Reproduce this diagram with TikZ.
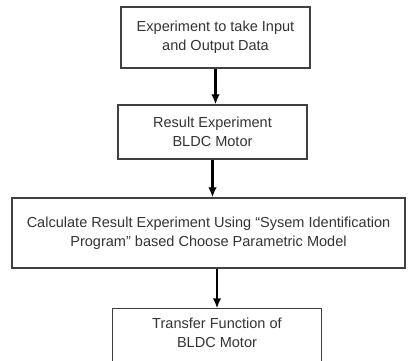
\documentclass[tikz,border=0pt]{standalone}
\usepackage{fontspec}
\setmainfont{Liberation Sans}
\usetikzlibrary{arrows.meta}

\begin{document}
\begin{tikzpicture}[x=0.75pt,y=-0.75pt,
		boxline/.style={draw=black!75,line width=1pt},
		box/.style={boxline,align=center,inner sep=0pt,
			font=\fontsize{10.9}{14}\selectfont,text=black!80},
		arr/.style={line width=1.6pt,-{Latex[length=7.5pt,width=6.5pt]}}]
				\useasboundingbox (0,0) rectangle (417,360);
				
				\node[box,minimum width=141.75pt,minimum height=45.75pt] (expt) at (215.5,37.5)
					{Experiment to take Input\\and Output Data};
				\node[box,minimum width=141.75pt,minimum height=40.5pt] (result) at (212.5,132)
					{Result Experiment\\BLDC Motor};
				\node[box,minimum width=294.75pt,minimum height=52.5pt] (calc) at (208.5,233)
					{Calculate Result Experiment Using ``Sysem Identification\\Program'' based Choose Parametric Model};
				% last box runs off the bottom of the page
				\node[box,draw=none,minimum width=156pt,minimum height=36pt] (tf) at (217,333)
					{Transfer Function of\\BLDC Motor};
				\draw[boxline] ([yshift=-12pt]tf.south west) |- (tf.north east) -- ([yshift=-12pt]tf.south east);
				
				\draw[arr] (expt.south) -- (expt.south |- result.north);
				\draw[arr] (result.south) -- (result.south |- calc.north);
				\draw[arr] (tf.north |- calc.south) -- (tf.north);
			\end{tikzpicture}
\end{document}
